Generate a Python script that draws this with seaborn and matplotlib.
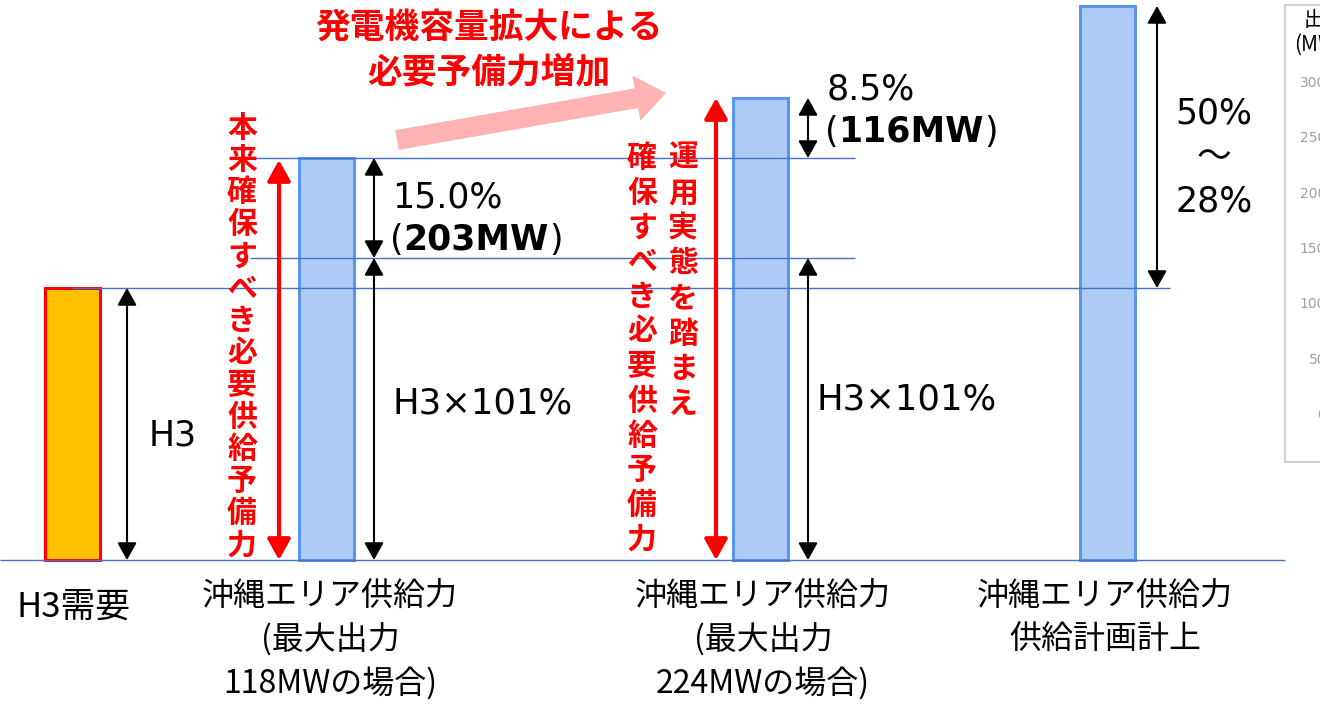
import pandas as pd
import matplotlib
matplotlib.use("Agg")
import matplotlib.pyplot as plt
from matplotlib.patches import Rectangle
import seaborn as sns

# 棒の高さ（基準線からの高さ、図から読み取り）
categories = ["H3需要", "供給力118MW", "供給力224MW", "供給計画計上"]
bar_x = [72, 326, 760, 1107]
bar_heights = [272, 402, 462, 554]
h3_level = 272
h3_101_level = 302

bottom_labels = [
    ["H3需要"],
    ["沖縄エリア供給力", "(最大出力", "118MWの場合)"],
    ["沖縄エリア供給力", "(最大出力", "224MWの場合)"],
    ["沖縄エリア供給力", "供給計画計上"],
]
title_lines = ["発電機容量拡大による", "必要予備力増加"]
red_text_1 = "本来確保すべき必要供給予備力"
red_text_2a = "運用実態を踏まえ"
red_text_2b = "確保すべき必要供給予備力"

# 右端に切れている別グラフの目盛り
inset_ticks = ["300", "250", "200", "150", "100", "50", "0"]

bar_colors = {"H3需要": "#FFC000", "供給力118MW": "#ADCBF6",
              "供給力224MW": "#ADCBF6", "供給計画計上": "#ADCBF6"}
edge_colors = ["#FF0000", "#5B95EC", "#5B95EC", "#5B95EC"]
LINE_BLUE = "#4472C4"
RED = "#FF0000"

sns.set_theme(style="white")
plt.rcParams["font.family"] = ["DejaVu Sans", "Noto Sans CJK JP"]
plt.rcParams["text.color"] = "black"
JP = ["Noto Sans CJK JP", "DejaVu Sans"]

fig = plt.figure(figsize=(13.2, 7.04), dpi=100)
ax = fig.add_axes([0, 0, 1, 1])

df = pd.DataFrame({"x": bar_x, "height": bar_heights, "kind": categories})
sns.barplot(data=df, x="x", y="height", hue="kind", palette=bar_colors,
            native_scale=True, width=55 / 254, dodge=False, legend=False,
            errorbar=None, saturation=1, linewidth=2.2, ax=ax, zorder=2)
for p, ec in zip(ax.patches, edge_colors):
    p.set_edgecolor(ec)

ax.set_xlim(0, 1320)
ax.set_ylim(-144, 560)
ax.axis("off")

# 水平の補助線
ax.hlines(0, 0, 1285, color=LINE_BLUE, lw=1, zorder=3)
ax.hlines(h3_level, 72, 1170, color=LINE_BLUE, lw=1, zorder=3)
ax.hlines(h3_101_level, 250, 855, color=LINE_BLUE, lw=1, zorder=3)
ax.hlines(bar_heights[1], 252, 855, color=LINE_BLUE, lw=1, zorder=3)


def darrow(x, y0, y1, color="black", lw=1.5, hl=0.75, hw=0.42):
    ax.annotate("", xy=(x, y1), xytext=(x, y0),
                arrowprops=dict(arrowstyle=f"<|-|>,head_length={hl},head_width={hw}",
                                color=color, lw=lw, shrinkA=0, shrinkB=0,
                                mutation_scale=14), zorder=4)


darrow(127, 0, h3_level)
darrow(374, h3_101_level, bar_heights[1])
darrow(374, 0, h3_101_level)
darrow(808, bar_heights[1], bar_heights[2])
darrow(808, 0, h3_101_level)
darrow(1157, h3_level, bar_heights[3])
darrow(279, 0, bar_heights[1] - 2, color=RED, lw=3, hl=0.9, hw=0.5)
darrow(716, 0, bar_heights[2], color=RED, lw=3, hl=0.9, hw=0.5)

# ピンクの矢印
ax.arrow(397, 420, 269, 47, width=20, head_width=46, head_length=30,
         length_includes_head=True, color="#FFB3B3", lw=0, zorder=1)

# タイトル
for i, line in enumerate(title_lines):
    ax.text(489, 532 - i * 44, line, color=RED, fontsize=25, fontweight="bold",
            family=JP, ha="center", va="center")


def vtext(x, y0, s, pitch):
    for i, ch in enumerate(s):
        ax.text(x, y0 - i * pitch, ch, color=RED, fontsize=21.5, fontweight="bold",
                family=JP, ha="center", va="center", zorder=5)


vtext(242, 432, red_text_1, 32.1)
vtext(683, 402, red_text_2a, 35.1)
vtext(642, 402, red_text_2b, 34.7)

renderer = fig.canvas.get_renderer()


def mixed(x, y, parts, size=25):
    for s, weight in parts:
        t = ax.text(x, y, s, fontsize=size, fontweight=weight, ha="left",
                    va="baseline", color="black")
        x += t.get_window_extent(renderer).width


ax.text(173, 125, "H3", fontsize=25, ha="center", va="center")
ax.text(392, 353, "15.0%", fontsize=25, ha="left", va="baseline")
mixed(390, 310, [("(", "normal"), ("203MW", "bold"), (")", "normal")])
ax.text(393, 147, "H3×101%", fontsize=25.5, ha="left", va="baseline")
ax.text(827, 460, "8.5%", fontsize=25, ha="left", va="baseline")
mixed(825, 418, [("(", "normal"), ("116MW", "bold"), (")", "normal")])
ax.text(817, 150, "H3×101%", fontsize=25.5, ha="left", va="baseline")
ax.text(1214, 446, "50%", fontsize=25, ha="center", va="center")
ax.text(1214, 402, "～", fontsize=25, ha="center", va="center", family=JP)
ax.text(1214, 358, "28%", fontsize=25, ha="center", va="center")

# 下のカテゴリ名
label_x = [73, 330, 763, 1105]
for x, lines in zip(label_x, bottom_labels):
    y0 = -47 if len(lines) == 1 else -37
    size = 25 if len(lines) == 1 else 23
    for i, line in enumerate(lines):
        ax.text(x, y0 - i * 43, line, fontsize=size, family=JP,
                ha="center", va="center", color="black")

# 右端で切れている別グラフ
ax.add_patch(Rectangle((1285, 98), 100, 457, facecolor="white",
                       edgecolor="#D0D0D0", lw=1.5, zorder=1))
ax.text(1304, 540, "出力", fontsize=15, family=JP, ha="left", va="center")
ax.text(1294, 515, "(MW)", fontsize=15, family=JP, ha="left", va="center")
for i, lab in enumerate(inset_ticks):
    ax.text(1326, 477 - i * 55.3, lab, fontsize=10, color="#A0A0A0",
            ha="right", va="center")

fig.savefig("out.png", dpi=100)
